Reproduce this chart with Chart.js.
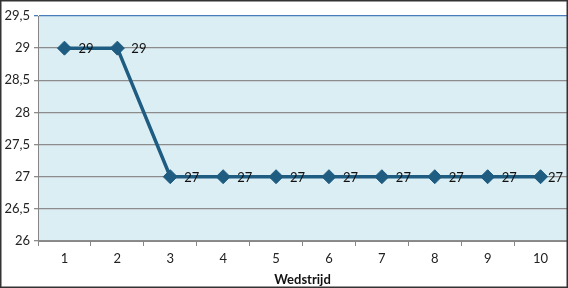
<!DOCTYPE html>
<html><head><meta charset="utf-8">
<script src="https://cdn.jsdelivr.net/npm/chart.js@4"></script>
<style>html,body{margin:0;padding:0;background:#fff}#wrap{width:568px;height:288px;position:relative}</style>
</head><body><div id="wrap"><canvas id="c" width="568" height="288"></canvas></div>
<script>
const categories = ['1','2','3','4','5','6','7','8','9','10'];
const values = [29,29,27,27,27,27,27,27,27,27];
const yTicks = [26,26.5,27,27.5,28,28.5,29,29.5];
const xTitle = 'Wedstrijd';

const lineColor = '#1E5C81';
const font = 'Lato, "Open Sans", sans-serif';

const bgPlugin = {
  id:'bg',
  beforeDraw(chart){
    const {ctx, chartArea:a} = chart;
    ctx.save();
    ctx.fillStyle = '#DBEEF4';
    ctx.fillRect(a.left, a.top, a.right-a.left, a.bottom-a.top);
    ctx.restore();
  },
  afterDraw(chart){
    const ctx = chart.ctx;
    ctx.save();
    ctx.strokeStyle = '#333';
    ctx.lineWidth = 1.5;
    ctx.strokeRect(0.75,0.75,chart.width-1.5,chart.height-1.5);
    ctx.restore();
  }
};
const labelPlugin = {
  id:'labels',
  afterDatasetsDraw(chart){
    const ctx = chart.ctx;
    const meta = chart.getDatasetMeta(0);
    const right = chart.chartArea.right;
    ctx.save();
    ctx.font = '13px ' + font;
    ctx.fillStyle = '#111';
    ctx.textAlign = 'left';
    ctx.textBaseline = 'middle';
    meta.data.forEach((pt,i)=>{
      const t = String(values[i]);
      const w = ctx.measureText(t).width;
      const x = Math.min(pt.x + 14, right - w - 4);
      ctx.fillText(t, x, pt.y + 1);
    });
    ctx.restore();
  }
};

new Chart(document.getElementById('c'), {
  type:'line',
  data:{labels:categories, datasets:[{
    data:values, borderColor:lineColor, backgroundColor:lineColor, borderWidth:3.5,
    pointStyle:'rectRot', pointRadius:7, pointHoverRadius:7, pointBorderWidth:1, tension:0, clip:false
  }]},
  options:{
    responsive:false, animation:false,
    layout:{autoPadding:false, padding:{top:16,right:1,left:0,bottom:0}},
    plugins:{legend:{display:false}, tooltip:{enabled:false}},
    scales:{
      x:{
        offset:true,
        grid:{display:true, drawOnChartArea:false, drawTicks:true, tickLength:5, color:'#868686', offset:true},
        border:{display:true, color:'#868686', width:1},
        ticks:{font:{family:font,size:13}, color:'#222', padding:5},
        title:{display:true, text:xTitle, font:{family:font,size:13,weight:'bold'}, color:'#111', padding:{top:0,bottom:0}},
        afterFit(s){ s.height = 47; s.paddingRight = 0; s.paddingLeft = 0; }
      },
      y:{
        min:26, max:29.5,
        afterBuildTicks(s){ s.ticks = yTicks.map(v=>({value:v})); },
        grid:{color:(c)=> (c.tick && c.tick.value===29.5) ? '#4A7EBB' : '#8C8C8C', lineWidth:1.3, tickLength:4, drawTicks:true},
        border:{display:true, color:'#868686', width:1},
        ticks:{font:{family:font,size:13}, color:'#222', padding:4,
          callback:(v)=> String(v).replace('.', ',')},
        afterFit(s){ s.width = 38; }
      }
    }
  },
  plugins:[bgPlugin, labelPlugin]
});
</script></body></html>
